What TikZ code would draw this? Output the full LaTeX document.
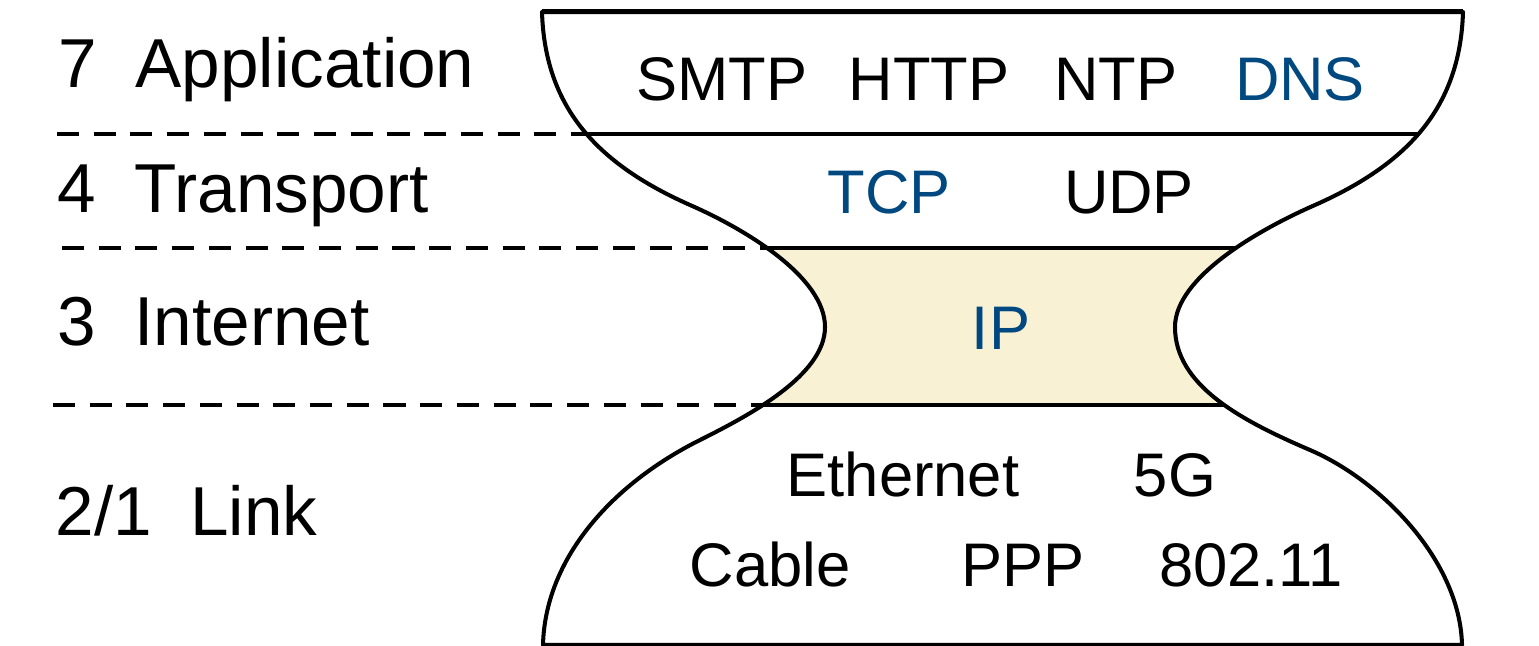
\documentclass[tikz,border=0pt]{standalone}
\usepackage{fontspec}
\setmainfont{Liberation Sans}
\definecolor{netblue}{RGB}{0,72,128}
\definecolor{ipbeige}{RGB}{248,241,212}
% outline of the hourglass, left side down, right side up
\newcommand{\hourglass}{(542,12) .. controls (545,110) and (600,165) .. (690,205)
    .. controls (745,229) and (825,277) .. (825,327)
    .. controls (825,375) and (750,415) .. (700,440)
    .. controls (610,485) and (545,560) .. (543,645)
    -- (1462,645) .. controls (1460,560) and (1380,480) .. (1310,450)
    .. controls (1240,420) and (1175,385) .. (1175,327)
    .. controls (1175,277) and (1260,229) .. (1315,205)
    .. controls (1405,165) and (1460,110) .. (1463,12) -- cycle}

\begin{document}
\begin{tikzpicture}[x=0.01cm, y=-0.01cm]
    \tikzstyle{layer}=[anchor=base west, inner sep=0pt, font=\fontsize{19.7}{22}\selectfont]
    \tikzstyle{proto}=[anchor=base, inner sep=0pt, font=\fontsize{17.5}{20}\selectfont]
    \tikzstyle{netproto}=[proto, text=netblue]
    \tikzstyle{bar}=[line width=1.4pt]
    \tikzstyle{divider}=[bar, dash pattern=on 0.22cm off 0.147cm]
    \tikzstyle{outline}=[line width=1.15pt, line join=round]
    \useasboundingbox (0,0) rectangle (1539,645);
    % where the layer lines meet the hourglass
    \coordinate (top-l) at (542,11);  \coordinate (top-r) at (1463,11);
    \coordinate (app-l) at (586,134); \coordinate (app-r) at (1419,134);
    \coordinate (tra-l) at (767,248); \coordinate (tra-r) at (1236,248);
    \coordinate (ip-l) at (767,405);  \coordinate (ip-r) at (1223,405);
    \coordinate (d1) at (57,134); \coordinate (d2) at (62,248); \coordinate (d3) at (53,405);
    % narrow waist
    \begin{scope}
        \clip (0,248) rectangle (1539,405);
        \fill[ipbeige] \hourglass;
    \end{scope}
    \draw[outline] \hourglass;
    % layer lines
    \draw[bar] (top-l) -- (top-r);
    \draw[bar] (app-l) -- (app-r);
    \draw[bar] (tra-l) -- (tra-r);
    \draw[bar] (ip-l) -- (ip-r);
    \draw[divider] (d1) -- (app-l);
    \draw[divider] (d2) -- (tra-l);
    \draw[divider] (d3) -- (ip-l);
    % layer names
    \node[layer] (l7) at (58,87) {7~~Application};
    \node[layer] (l4) at (57,212) {4~~Transport};
    \node[layer] (l3) at (57,345) {3~~Internet};
    \node[layer] (l2) at (55,535) {2/1~~Link};
    % protocols
    \node[proto] (smtp) at (722,100) {SMTP};
    \node[proto] (http) at (929,100) {HTTP};
    \node[proto] (ntp) at (1116,100) {NTP};
    \node[netproto] (dns) at (1300,100) {DNS};
    \node[netproto] (tcp) at (889,213) {TCP};
    \node[proto] (udp) at (1129,213) {UDP};
    \node[netproto] (ip) at (1001,349) {IP};
    \node[proto] (eth) at (903,496) {Ethernet};
    \node[proto] (5g) at (1175,496) {5G};
    \node[proto] (cable) at (770,586) {Cable};
    \node[proto] (ppp) at (1023,586) {PPP};
    \node[proto] (wifi) at (1251,586) {802.11};
\end{tikzpicture}
\end{document}
